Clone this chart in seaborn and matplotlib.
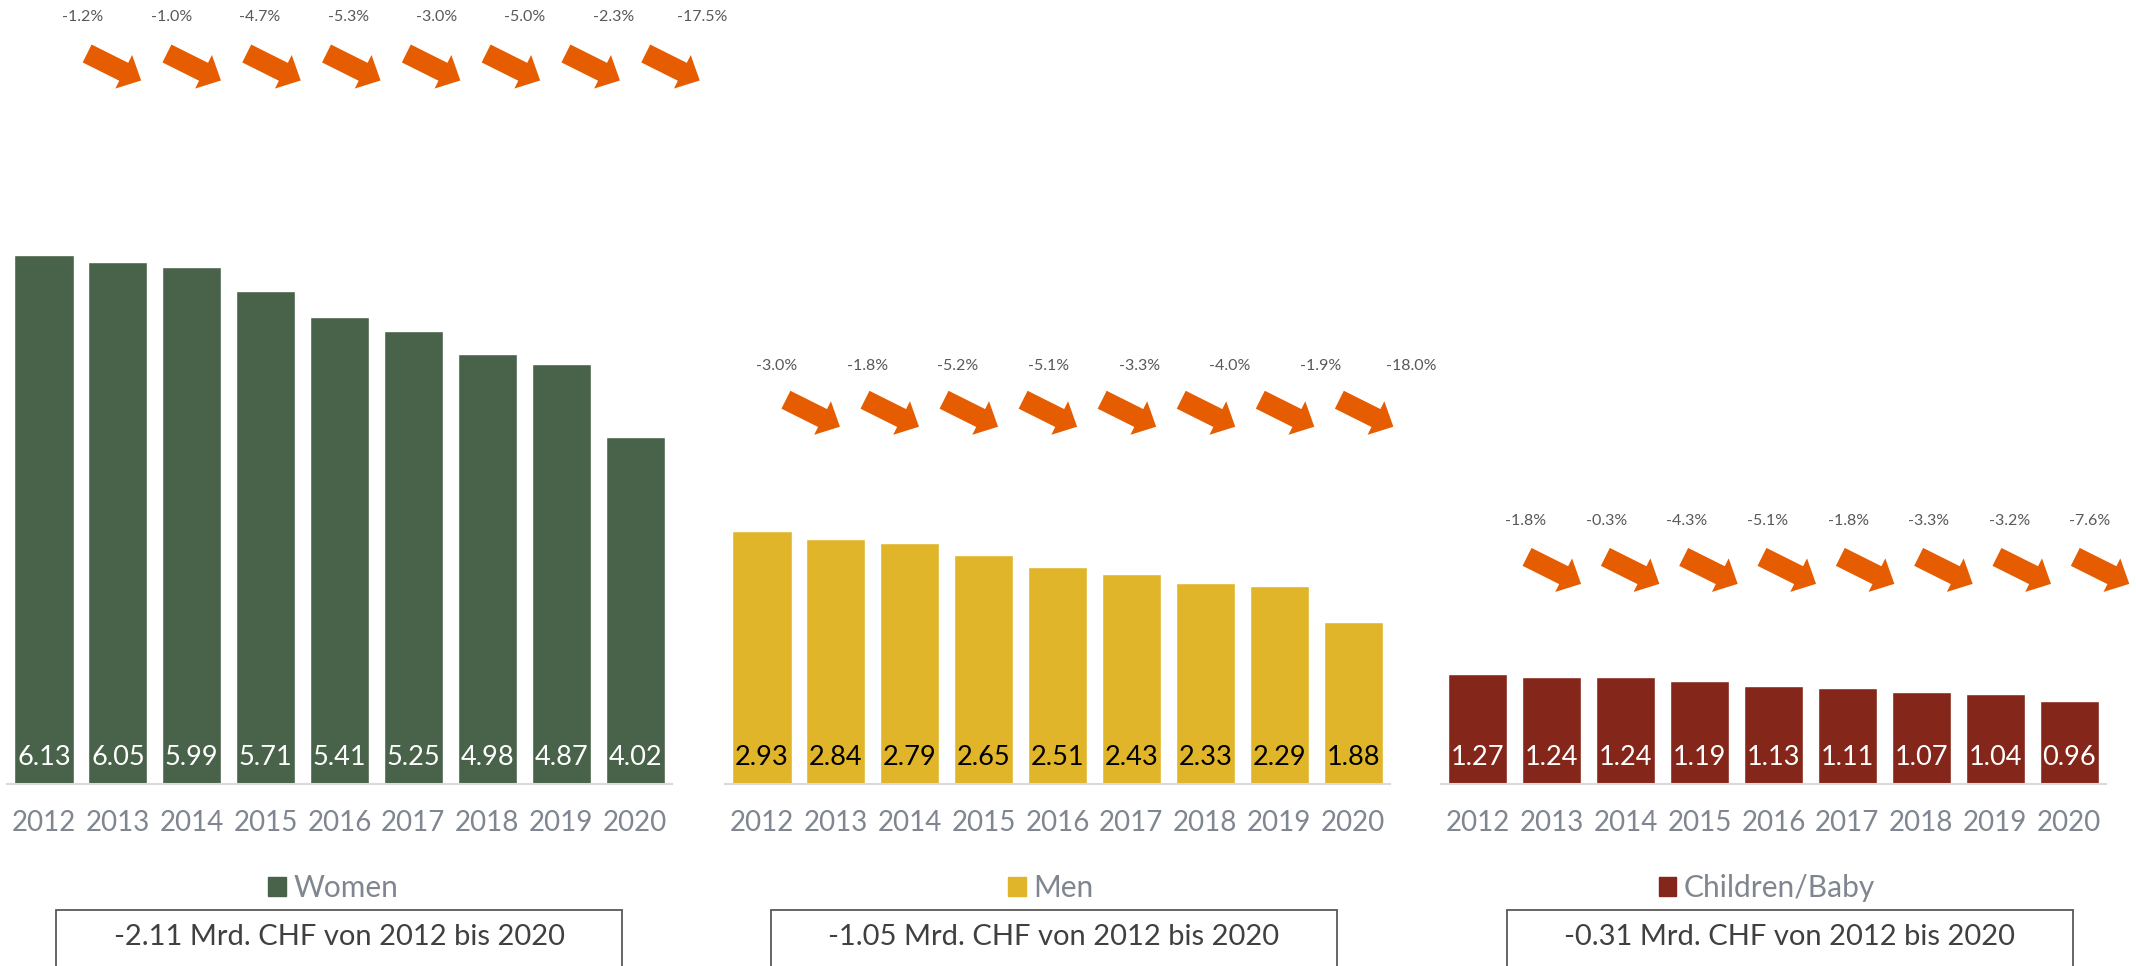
import numpy as np
import pandas as pd
import matplotlib
matplotlib.use('Agg')
import matplotlib.pyplot as plt
import seaborn as sns
from matplotlib.patches import Patch, Rectangle
from matplotlib.transforms import offset_copy

# ── data ─────────────────────────────────────────────
years = ['2012', '2013', '2014', '2015', '2016', '2017', '2018', '2019', '2020']

women = [6.13, 6.05, 5.99, 5.71, 5.41, 5.25, 4.98, 4.87, 4.02]
men   = [2.93, 2.84, 2.79, 2.65, 2.51, 2.43, 2.33, 2.29, 1.88]
kids  = [1.27, 1.24, 1.24, 1.19, 1.13, 1.11, 1.07, 1.04, 0.96]

women_pct = [-1.2, -1.0, -4.7, -5.3, -3.0, -5.0, -2.3, -17.5]
men_pct   = [-3.0, -1.8, -5.2, -5.1, -3.3, -4.0, -1.9, -18.0]
kids_pct  = [-1.8, -0.3, -4.3, -5.1, -1.8, -3.3, -3.2, -7.6]

totals = [-2.11, -1.05, -0.31]
labels = ['Women', 'Men', 'Children/Baby']

# ── style ────────────────────────────────────────────
sns.set_style('white')
plt.rcParams['font.family'] = ['Lato', 'DejaVu Sans']

colors = ['#49624A', '#E0B52A', '#85261A']
value_colors = ['white', 'black', 'white']
orange = '#E65C00'
gray_txt = '#7F868F'

W, H, DPI = 2136, 966, 100
fig = plt.figure(figsize=(W / DPI, H / DPI), dpi=DPI)

ax_left = [7, 725, 1441]          # px
ax_w = 665
base_px = 784                     # baseline, px from top
ymax = 9.08

# per-panel annotation layout (data units): start, step, height
pct_layout = [(0.53, 1.196, 8.88), (0.20, 1.226, 4.84), (0.65, 1.09, 3.05)]
arrow_layout = [(0.95, 1.08, 8.31), (0.69, 1.07, 4.30), (1.03, 1.06, 2.48)]
box_left = [56, 771, 1507]
box_w = 566

series = [women, men, kids]
pcts = [women_pct, men_pct, kids_pct]

for k in range(3):
    ax = fig.add_axes([ax_left[k] / W, (H - base_px) / H, ax_w / W, base_px / H])
    ax.set_facecolor('none')
    df = pd.DataFrame({'year': years, 'value': series[k]})
    sns.barplot(data=df, x='year', y='value', color=colors[k], saturation=1,
                width=0.8, ax=ax)
    ax.set_xlim(-0.5, 8.5)
    ax.set_ylim(0, ymax)
    ax.set_xlabel('')
    ax.set_ylabel('')
    ax.set_yticks([])
    for s in ['top', 'left', 'right']:
        ax.spines[s].set_visible(False)
    ax.spines['bottom'].set_color('#D9D9D9')
    ax.spines['bottom'].set_linewidth(1.5)
    ax.tick_params(axis='x', length=0, pad=19, labelsize=20, labelcolor=gray_txt)

    # values inside bars
    for i, v in enumerate(series[k]):
        ax.text(i, 0.31, f'{v:.2f}', ha='center', va='center', fontsize=19.5,
                color=value_colors[k])

    # percentage changes with arrows
    x0, step, yl = pct_layout[k]
    a0, astep, ya = arrow_layout[k]
    tail_tr = offset_copy(ax.transData, fig=fig, x=-27, y=13, units='dots')
    tip_tr = offset_copy(ax.transData, fig=fig, x=27, y=-14, units='dots')
    for j, p in enumerate(pcts[k]):
        xl = x0 + j * step
        ax.text(xl, yl, f'{p:.1f}%', ha='center', va='center', fontsize=11.5,
                color='#595959', clip_on=False)
        xa = a0 + j * astep
        ann = ax.annotate('', xy=(xa, ya), xycoords=tip_tr,
                          xytext=(xa, ya), textcoords=tail_tr,
                          arrowprops=dict(arrowstyle='simple,head_length=0.7,head_width=1.35,tail_width=0.72',
                                          mutation_scale=20, color=orange, lw=0,
                                          shrinkA=0, shrinkB=0),
                          annotation_clip=False)
        ann.arrow_patch.set_clip_on(False)

    # legend
    ax.legend(handles=[Patch(color=colors[k], label=labels[k])], loc='center',
              bbox_to_anchor=(0.49, -0.133), frameon=False, fontsize=21.5,
              handlelength=0.6, handleheight=0.6, handletextpad=0.25,
              labelcolor=gray_txt, borderaxespad=0)

    # total box
    fig.patches.append(Rectangle((box_left[k] / W, -0.02), box_w / W, (H - 910) / H + 0.02,
                                 transform=fig.transFigure, fill=False,
                                 edgecolor='#595959', linewidth=1.3))
    fig.text((box_left[k] + box_w / 2) / W, (H - 937) / H,
             f'{totals[k]:.2f} Mrd. CHF von 2012 bis 2020',
             ha='center', va='center', fontsize=21, color='#404040')

fig.savefig('out.png', dpi=DPI)
